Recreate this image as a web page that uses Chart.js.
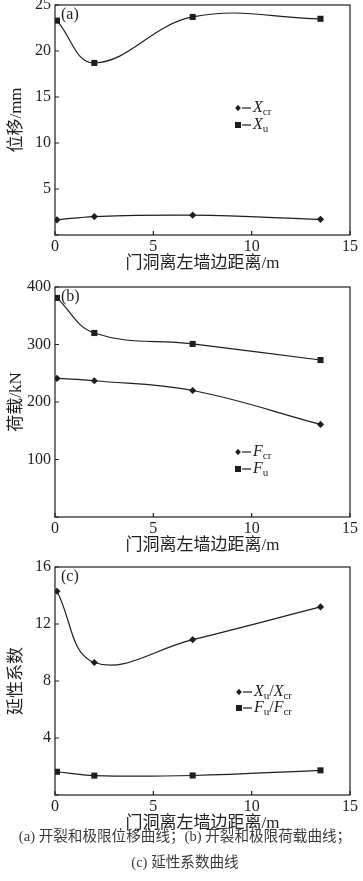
<!DOCTYPE html>
<html>
<head>
<meta charset="utf-8">
<script src="https://cdn.jsdelivr.net/npm/chart.js@4"></script>
<style>
  body{margin:0;background:#fff;width:363px;height:881px;position:relative;overflow:hidden;}
  .box{position:absolute;left:0;width:363px;height:280px;}
  .cap{position:absolute;left:0;width:370px;text-align:center;top:823px;
       font:14.6px "Liberation Serif","Noto Sans CJK SC",serif;line-height:26px;color:#3a3a3a;}
</style>
</head>
<body>
<div class="box" style="top:0"><canvas id="ca" width="363" height="280"></canvas></div>
<div class="box" style="top:280px"><canvas id="cb" width="363" height="280"></canvas></div>
<div class="box" style="top:560px"><canvas id="cc" width="363" height="280"></canvas></div>
<div class="cap">(a) 开裂和极限位移曲线；(b) 开裂和极限荷载曲线；<br>(c) 延性系数曲线</div>
<script>
// distance of door opening from left wall edge (m)
const xPos = [0.1, 2, 7, 13.5];
const xTicks = [0, 5, 10, 15];
// (a) displacement, mm
const dispCr = [1.65, 2.0, 2.15, 1.7];
const dispU = [23.3, 18.7, 23.7, 23.5];
// (b) load, kN
const loadCr = [241, 237, 220, 161];
const loadU = [381, 320, 301, 273];
// (c) ductility
const ductX = [14.3, 9.3, 10.9, 13.2];
const ductF = [1.63, 1.36, 1.37, 1.73];

const xTitle = '门洞离左墙边距离/m';
const SERIF = '"Liberation Serif","Noto Sans CJK SC",serif';
const INK = '#1e1e1e';

function pts(ys){ return xPos.map((x,i)=>({x:x, y:ys[i]})); }

function line(ys, style){
  return {
    data: pts(ys), borderColor: INK, borderWidth: 1.2, tension: 0.4,
    pointStyle: style, pointRadius: style==='rect' ? 4.3 : 3.6,
    pointBackgroundColor: INK, pointBorderColor: INK, pointBorderWidth: 0
  };
}

// text with italic letters and subscripts
function rich(ctx, x, y, parts){
  parts.forEach(p=>{
    if(p.s){ ctx.font = '11px '+SERIF; ctx.fillText(p.s, x, y+4); x += ctx.measureText(p.s).width; }
    else if(p.i){ ctx.font = 'italic 16px '+SERIF; ctx.fillText(p.i, x, y); x += ctx.measureText(p.i).width; }
    else { ctx.font = '16px '+SERIF; ctx.fillText(p.t, x, y); x += ctx.measureText(p.t).width; }
  });
}

function marker(ctx, x, y, style){
  ctx.beginPath();
  if(style==='rect'){ ctx.rect(x-3, y-3, 6, 6); }
  else { ctx.moveTo(x, y-3.2); ctx.lineTo(x+2.8, y); ctx.lineTo(x, y+3.2); ctx.lineTo(x-2.8, y); ctx.closePath(); }
  ctx.fill();
}

const decor = {
  id: 'decor',
  afterDraw(chart, args, o){
    const ctx = chart.ctx, a = chart.chartArea;
    const xs = chart.scales.x, ys = chart.scales.y;
    ctx.save();
    ctx.strokeStyle = INK; ctx.fillStyle = INK; ctx.lineWidth = 1.2;
    ctx.strokeRect(a.left, a.top, a.right-a.left, a.bottom-a.top);
    // inward ticks
    ctx.beginPath();
    xs.ticks.forEach(t=>{ const p = xs.getPixelForValue(t.value); ctx.moveTo(p, a.bottom); ctx.lineTo(p, a.bottom-4); });
    ys.ticks.forEach(t=>{ const p = ys.getPixelForValue(t.value); ctx.moveTo(a.left, p); ctx.lineTo(a.left+4, p); });
    ctx.stroke();
    // titles
    ctx.textBaseline = 'middle';
    ctx.font = '17px '+SERIF;
    ctx.textAlign = 'center';
    ctx.fillText(xTitle, (a.left+a.right)/2, a.bottom+29);
    ctx.save();
    ctx.translate(17, (a.top+a.bottom)/2);
    ctx.rotate(-Math.PI/2);
    ctx.fillText(o.yTitle, 0, 0);
    ctx.restore();
    // panel tag
    ctx.textAlign = 'left';
    ctx.font = '16px '+SERIF;
    ctx.fillText(o.tag, a.left+6, a.top+10);
    // legend
    o.legend.forEach(it=>{
      marker(ctx, o.lx, it.y, it.style);
      ctx.beginPath(); ctx.moveTo(o.lx+4, it.y); ctx.lineTo(o.lx+13, it.y); ctx.stroke();
      rich(ctx, o.lx+15, it.y, it.parts);
    });
    ctx.restore();
  }
};

function makeChart(id, sets, yMax, yStep, top, bottom, opts){
  return new Chart(document.getElementById(id), {
    type: 'line',
    data: { datasets: sets },
    options: {
      responsive: false, animation: false,
      layout: { padding: { top: top, right: 13, left: 0, bottom: 0 } },
      plugins: { legend: { display: false }, tooltip: { enabled: false }, decor: opts },
      scales: {
        x: {
          type: 'linear', min: 0, max: 15,
          afterBuildTicks: s=>{ s.ticks = xTicks.map(v=>({value:v})); },
          grid: { display: false, drawTicks: false }, border: { display: false },
          ticks: { padding: 2, color: INK, maxRotation: 0, font: { family: SERIF, size: 16 } },
          afterFit: s=>{ s.height = 280 - bottom; s.paddingLeft = 0; s.paddingRight = 0; }
        },
        y: {
          min: 0, max: yMax,
          ticks: { stepSize: yStep, padding: 4, color: INK, font: { family: SERIF, size: 16 },
                   callback: v => v === 0 ? '' : v },
          grid: { display: false, drawTicks: false }, border: { display: false },
          afterFit: s=>{ s.width = 55; s.paddingTop = 0; s.paddingBottom = 0; }
        }
      }
    },
    plugins: [decor]
  });
}

makeChart('ca', [line(dispCr,'rectRot'), line(dispU,'rect')], 25, 5, 5, 235, {
  yTitle: '位移/mm', tag: '(a)', lx: 238,
  legend: [
    { y: 108, style: 'rectRot', parts: [{i:'X'},{s:'cr'}] },
    { y: 125, style: 'rect', parts: [{i:'X'},{s:'u'}] }
  ]
});
makeChart('cb', [line(loadCr,'rectRot'), line(loadU,'rect')], 400, 100, 7, 237, {
  yTitle: '荷载/kN', tag: '(b)', lx: 238,
  legend: [
    { y: 172, style: 'rectRot', parts: [{i:'F'},{s:'cr'}] },
    { y: 189, style: 'rect', parts: [{i:'F'},{s:'u'}] }
  ]
});
makeChart('cc', [line(ductX,'rectRot'), line(ductF,'rect')], 16, 4, 7, 235, {
  yTitle: '延性系数', tag: '(c)', lx: 239,
  legend: [
    { y: 132, style: 'rectRot', parts: [{i:'X'},{s:'u'},{t:'/'},{i:'X'},{s:'cr'}] },
    { y: 148, style: 'rect', parts: [{i:'F'},{s:'u'},{t:'/'},{i:'F'},{s:'cr'}] }
  ]
});
</script>
</body>
</html>
